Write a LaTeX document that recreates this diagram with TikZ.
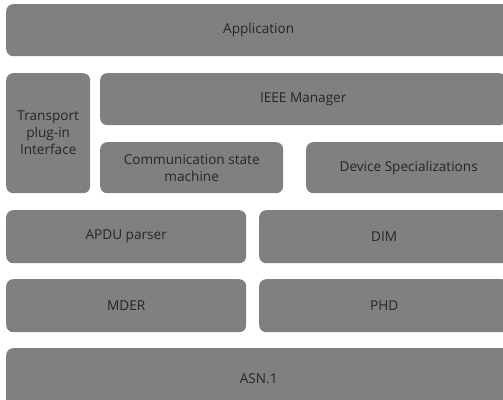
\documentclass[tikz,border=0pt]{standalone}
\usepackage{fontspec}
\setmainfont{Open Sans}
\usetikzlibrary{positioning}

\tikzset{
  layer/.style={fill=black!50, rounded corners=7pt, inner sep=0pt, anchor=north west,
    text=black!85, align=center, font=\fontsize{13.6}{17}\selectfont},
}

\begin{document}
\begin{tikzpicture}[x=1pt,y=-1pt]
  \useasboundingbox (0,0) rectangle (503,399);
  \clip (0,0) rectangle (503,399);
  % top row
  \node[layer, minimum width=505pt, minimum height=52pt] (app) at (6,4) {Application};
  % manager block
  \node[layer, minimum width=84pt, minimum height=120pt] (tpi) at (6,73) {Transport\\plug-in\\Interface};
  \node[layer, minimum width=406pt, minimum height=52pt] (mgr) at (100,73) {IEEE Manager};
  \node[layer, minimum width=183pt, minimum height=51pt] (csm) at (100,142) {Communication state\\machine};
  \node[layer, minimum width=205pt, minimum height=51pt] (dev) at (306,142) {Device Specializations};
  % codec rows
  \node[layer, minimum width=240pt, minimum height=53pt] (apdu) at (6,210) {APDU parser};
  \node[layer, minimum width=250pt, minimum height=53pt] (dim) at (259,210) {DIM};
  \node[layer, minimum width=240pt, minimum height=53pt] (mder) at (6,279) {MDER};
  \node[layer, minimum width=250pt, minimum height=53pt] (phd) at (259,279) {PHD};
  % bottom
  \node[layer, minimum width=505pt, minimum height=60pt] (asn) at (6,348) {ASN.1};
\end{tikzpicture}
\end{document}
